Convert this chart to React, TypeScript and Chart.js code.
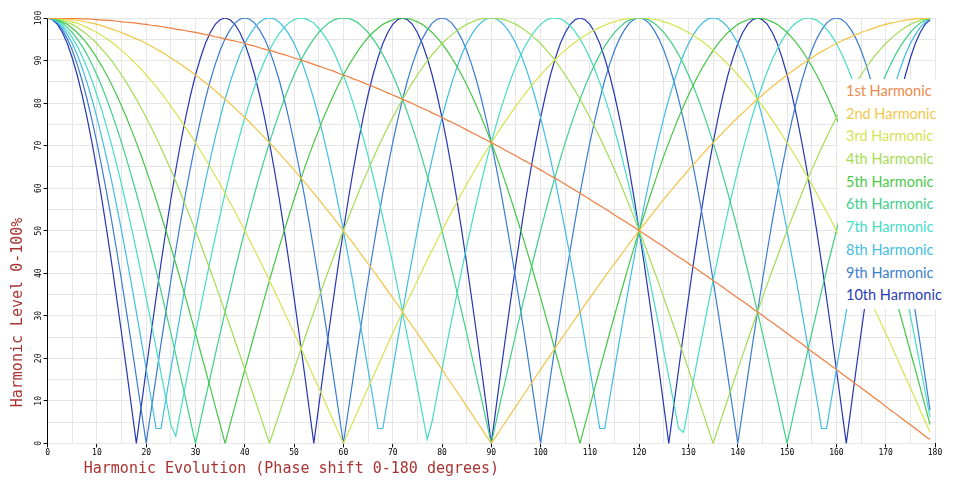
import { useEffect, useRef } from "react";
import Chart from "chart.js/auto";

// phase shift in degrees, one sample per degree
const phaseDegrees: number[] = Array.from({ length: 180 }, (_, i) => i);

const harmonicNames = [
  "1st Harmonic",
  "2nd Harmonic",
  "3rd Harmonic",
  "4th Harmonic",
  "5th Harmonic",
  "6th Harmonic",
  "7th Harmonic",
  "8th Harmonic",
  "9th Harmonic",
  "10th Harmonic",
];

const harmonicColors = [
  "#ee7d3e",
  "#f3c343",
  "#d6e44c",
  "#a3dc52",
  "#45c646",
  "#3fcf86",
  "#45dcc6",
  "#41bce2",
  "#3a7cd2",
  "#2737b3",
];

const legendColors = [
  "#ee8a4e",
  "#f2c84b",
  "#d5e352",
  "#a6dc55",
  "#4cc84a",
  "#41cf8a",
  "#46dcc8",
  "#45bde0",
  "#3b7fd0",
  "#2b3bb5",
];

const h1 = [
  100, 100, 100, 100, 99.9, 99.9, 99.9, 99.8, 99.8, 99.7,
  99.6, 99.5, 99.5, 99.4, 99.3, 99.1, 99.0, 98.9, 98.8, 98.6,
  98.5, 98.3, 98.2, 98.0, 97.8, 97.6, 97.4, 97.2, 97.0, 96.8,
  96.6, 96.4, 96.1, 95.9, 95.6, 95.4, 95.1, 94.8, 94.6, 94.3,
  94.0, 93.7, 93.4, 93.0, 92.7, 92.4, 92.1, 91.7, 91.4, 91.0,
  90.6, 90.3, 89.9, 89.5, 89.1, 88.7, 88.3, 87.9, 87.5, 87.0,
  86.6, 86.2, 85.7, 85.3, 84.8, 84.3, 83.9, 83.4, 82.9, 82.4,
  81.9, 81.4, 80.9, 80.4, 79.9, 79.3, 78.8, 78.3, 77.7, 77.2,
  76.6, 76.0, 75.5, 74.9, 74.3, 73.7, 73.1, 72.5, 71.9, 71.3,
  70.7, 70.1, 69.5, 68.8, 68.2, 67.6, 66.9, 66.3, 65.6, 64.9,
  64.3, 63.6, 62.9, 62.3, 61.6, 60.9, 60.2, 59.5, 58.8, 58.1,
  57.4, 56.6, 55.9, 55.2, 54.5, 53.7, 53.0, 52.3, 51.5, 50.8,
  50.0, 49.2, 48.5, 47.7, 47.0, 46.2, 45.4, 44.6, 43.8, 43.1,
  42.3, 41.5, 40.7, 39.9, 39.1, 38.3, 37.5, 36.7, 35.8, 35.0,
  34.2, 33.4, 32.6, 31.7, 30.9, 30.1, 29.2, 28.4, 27.6, 26.7,
  25.9, 25.0, 24.2, 23.4, 22.5, 21.6, 20.8, 19.9, 19.1, 18.2,
  17.4, 16.5, 15.6, 14.8, 13.9, 13.1, 12.2, 11.3, 10.5, 9.6,
  8.7, 7.8, 7.0, 6.1, 5.2, 4.4, 3.5, 2.6, 1.7, 0.9,
];

const h2 = [
  100, 100, 99.9, 99.9, 99.8, 99.6, 99.5, 99.3, 99.0, 98.8,
  98.5, 98.2, 97.8, 97.4, 97.0, 96.6, 96.1, 95.6, 95.1, 94.6,
  94.0, 93.4, 92.7, 92.1, 91.4, 90.6, 89.9, 89.1, 88.3, 87.5,
  86.6, 85.7, 84.8, 83.9, 82.9, 81.9, 80.9, 79.9, 78.8, 77.7,
  76.6, 75.5, 74.3, 73.1, 71.9, 70.7, 69.5, 68.2, 66.9, 65.6,
  64.3, 62.9, 61.6, 60.2, 58.8, 57.4, 55.9, 54.5, 53.0, 51.5,
  50.0, 48.5, 47.0, 45.4, 43.8, 42.3, 40.7, 39.1, 37.5, 35.8,
  34.2, 32.6, 30.9, 29.2, 27.6, 25.9, 24.2, 22.5, 20.8, 19.1,
  17.4, 15.6, 13.9, 12.2, 10.5, 8.7, 7.0, 5.2, 3.5, 1.7,
  0,
  1.7, 3.5, 5.2, 7.0, 8.7, 10.5, 12.2, 13.9, 15.6, 17.4,
  19.1, 20.8, 22.5, 24.2, 25.9, 27.6, 29.2, 30.9, 32.6, 34.2,
  35.8, 37.5, 39.1, 40.7, 42.3, 43.8, 45.4, 47.0, 48.5, 50.0,
  51.5, 53.0, 54.5, 55.9, 57.4, 58.8, 60.2, 61.6, 62.9, 64.3,
  65.6, 66.9, 68.2, 69.5, 70.7, 71.9, 73.1, 74.3, 75.5, 76.6,
  77.7, 78.8, 79.9, 80.9, 81.9, 82.9, 83.9, 84.8, 85.7, 86.6,
  87.5, 88.3, 89.1, 89.9, 90.6, 91.4, 92.1, 92.7, 93.4, 94.0,
  94.6, 95.1, 95.6, 96.1, 96.6, 97.0, 97.4, 97.8, 98.2, 98.5,
  98.8, 99.0, 99.3, 99.5, 99.6, 99.8, 99.9, 99.9, 100,
];

const h3 = [
  100, 100, 99.9, 99.7, 99.5, 99.1, 98.8, 98.3, 97.8, 97.2,
  96.6, 95.9, 95.1, 94.3, 93.4, 92.4, 91.4, 90.3, 89.1, 87.9,
  86.6, 85.3, 83.9, 82.4, 80.9, 79.3, 77.7, 76.0, 74.3, 72.5,
  70.7, 68.8, 66.9, 64.9, 62.9, 60.9, 58.8, 56.6, 54.5, 52.3,
  50.0, 47.7, 45.4, 43.1, 40.7, 38.3, 35.8, 33.4, 30.9, 28.4,
  25.9, 23.4, 20.8, 18.2, 15.6, 13.1, 10.5, 7.8, 5.2, 2.6,
  0,
  2.6, 5.2, 7.8, 10.5, 13.1, 15.6, 18.2, 20.8, 23.4, 25.9,
  28.4, 30.9, 33.4, 35.8, 38.3, 40.7, 43.1, 45.4, 47.7, 50.0,
  52.3, 54.5, 56.6, 58.8, 60.9, 62.9, 64.9, 66.9, 68.8, 70.7,
  72.5, 74.3, 76.0, 77.7, 79.3, 80.9, 82.4, 83.9, 85.3, 86.6,
  87.9, 89.1, 90.3, 91.4, 92.4, 93.4, 94.3, 95.1, 95.9, 96.6,
  97.2, 97.8, 98.3, 98.8, 99.1, 99.5, 99.7, 99.9, 100, 100,
  100, 99.9, 99.7, 99.5, 99.1, 98.8, 98.3, 97.8, 97.2,
  96.6, 95.9, 95.1, 94.3, 93.4, 92.4, 91.4, 90.3, 89.1, 87.9,
  86.6, 85.3, 83.9, 82.4, 80.9, 79.3, 77.7, 76.0, 74.3, 72.5,
  70.7, 68.8, 66.9, 64.9, 62.9, 60.9, 58.8, 56.6, 54.5, 52.3,
  50.0, 47.7, 45.4, 43.1, 40.7, 38.3, 35.8, 33.4, 30.9, 28.4,
  25.9, 23.4, 20.8, 18.2, 15.6, 13.1, 10.5, 7.8, 5.2, 2.6,
];

const h4 = [
  100, 99.9, 99.8, 99.5, 99.0, 98.5, 97.8, 97.0, 96.1, 95.1,
  94.0, 92.7, 91.4, 89.9, 88.3, 86.6, 84.8, 82.9, 80.9, 78.8,
  76.6, 74.3, 71.9, 69.5, 66.9, 64.3, 61.6, 58.8, 55.9, 53.0,
  50.0, 47.0, 43.8, 40.7, 37.5, 34.2, 30.9, 27.6, 24.2, 20.8,
  17.4, 13.9, 10.5, 7.0, 3.5, 0,
  3.5, 7.0, 10.5, 13.9, 17.4, 20.8, 24.2, 27.6, 30.9, 34.2,
  37.5, 40.7, 43.8, 47.0, 50.0, 53.0, 55.9, 58.8, 61.6, 64.3,
  66.9, 69.5, 71.9, 74.3, 76.6, 78.8, 80.9, 82.9, 84.8, 86.6,
  88.3, 89.9, 91.4, 92.7, 94.0, 95.1, 96.1, 97.0, 97.8, 98.5,
  99.0, 99.5, 99.8, 99.9, 100,
  99.9, 99.8, 99.5, 99.0, 98.5, 97.8, 97.0, 96.1, 95.1,
  94.0, 92.7, 91.4, 89.9, 88.3, 86.6, 84.8, 82.9, 80.9, 78.8,
  76.6, 74.3, 71.9, 69.5, 66.9, 64.3, 61.6, 58.8, 55.9, 53.0,
  50.0, 47.0, 43.8, 40.7, 37.5, 34.2, 30.9, 27.6, 24.2, 20.8,
  17.4, 13.9, 10.5, 7.0, 3.5, 0,
  3.5, 7.0, 10.5, 13.9, 17.4, 20.8, 24.2, 27.6, 30.9, 34.2,
  37.5, 40.7, 43.8, 47.0, 50.0, 53.0, 55.9, 58.8, 61.6, 64.3,
  66.9, 69.5, 71.9, 74.3, 76.6, 78.8, 80.9, 82.9, 84.8, 86.6,
  88.3, 89.9, 91.4, 92.7, 94.0, 95.1, 96.1, 97.0, 97.8, 98.5,
  99.0, 99.5, 99.8, 99.9,
];

const h5 = [
  100, 99.9, 99.6, 99.1, 98.5, 97.6, 96.6, 95.4, 94.0, 92.4,
  90.6, 88.7, 86.6, 84.3, 81.9, 79.3, 76.6, 73.7, 70.7, 67.6,
  64.3, 60.9, 57.4, 53.7, 50.0, 46.2, 42.3, 38.3, 34.2, 30.1,
  25.9, 21.6, 17.4, 13.1, 8.7, 4.4, 0,
  4.4, 8.7, 13.1, 17.4, 21.6, 25.9, 30.1, 34.2, 38.3, 42.3,
  46.2, 50.0, 53.7, 57.4, 60.9, 64.3, 67.6, 70.7, 73.7, 76.6,
  79.3, 81.9, 84.3, 86.6, 88.7, 90.6, 92.4, 94.0, 95.4, 96.6,
  97.6, 98.5, 99.1, 99.6, 99.9, 100,
  99.9, 99.6, 99.1, 98.5, 97.6, 96.6, 95.4, 94.0, 92.4,
  90.6, 88.7, 86.6, 84.3, 81.9, 79.3, 76.6, 73.7, 70.7, 67.6,
  64.3, 60.9, 57.4, 53.7, 50.0, 46.2, 42.3, 38.3, 34.2, 30.1,
  25.9, 21.6, 17.4, 13.1, 8.7, 4.4, 0,
  4.4, 8.7, 13.1, 17.4, 21.6, 25.9, 30.1, 34.2, 38.3, 42.3,
  46.2, 50.0, 53.7, 57.4, 60.9, 64.3, 67.6, 70.7, 73.7, 76.6,
  79.3, 81.9, 84.3, 86.6, 88.7, 90.6, 92.4, 94.0, 95.4, 96.6,
  97.6, 98.5, 99.1, 99.6, 99.9, 100,
  99.9, 99.6, 99.1, 98.5, 97.6, 96.6, 95.4, 94.0, 92.4,
  90.6, 88.7, 86.6, 84.3, 81.9, 79.3, 76.6, 73.7, 70.7, 67.6,
  64.3, 60.9, 57.4, 53.7, 50.0, 46.2, 42.3, 38.3, 34.2, 30.1,
  25.9, 21.6, 17.4, 13.1, 8.7, 4.4,
];

const h6 = [
  100, 99.9, 99.5, 98.8, 97.8, 96.6, 95.1, 93.4, 91.4, 89.1,
  86.6, 83.9, 80.9, 77.7, 74.3, 70.7, 66.9, 62.9, 58.8, 54.5,
  50.0, 45.4, 40.7, 35.8, 30.9, 25.9, 20.8, 15.6, 10.5, 5.2, 0,
  5.2, 10.5, 15.6, 20.8, 25.9, 30.9, 35.8, 40.7, 45.4, 50.0,
  54.5, 58.8, 62.9, 66.9, 70.7, 74.3, 77.7, 80.9, 83.9, 86.6,
  89.1, 91.4, 93.4, 95.1, 96.6, 97.8, 98.8, 99.5, 99.9, 100,
  99.9, 99.5, 98.8, 97.8, 96.6, 95.1, 93.4, 91.4, 89.1, 86.6,
  83.9, 80.9, 77.7, 74.3, 70.7, 66.9, 62.9, 58.8, 54.5, 50.0,
  45.4, 40.7, 35.8, 30.9, 25.9, 20.8, 15.6, 10.5, 5.2, 0,
  5.2, 10.5, 15.6, 20.8, 25.9, 30.9, 35.8, 40.7, 45.4, 50.0,
  54.5, 58.8, 62.9, 66.9, 70.7, 74.3, 77.7, 80.9, 83.9, 86.6,
  89.1, 91.4, 93.4, 95.1, 96.6, 97.8, 98.8, 99.5, 99.9, 100,
  99.9, 99.5, 98.8, 97.8, 96.6, 95.1, 93.4, 91.4, 89.1, 86.6,
  83.9, 80.9, 77.7, 74.3, 70.7, 66.9, 62.9, 58.8, 54.5, 50.0,
  45.4, 40.7, 35.8, 30.9, 25.9, 20.8, 15.6, 10.5, 5.2, 0,
  5.2, 10.5, 15.6, 20.8, 25.9, 30.9, 35.8, 40.7, 45.4, 50.0,
  54.5, 58.8, 62.9, 66.9, 70.7, 74.3, 77.7, 80.9, 83.9, 86.6,
  89.1, 91.4, 93.4, 95.1, 96.6, 97.8, 98.8, 99.5, 99.9,
];

const h7 = [
  100, 99.8, 99.3, 98.3, 97.0, 95.4, 93.4, 91.0, 88.3, 85.3,
  81.9, 78.3, 74.3, 70.1, 65.6, 60.9, 55.9, 50.8, 45.4, 39.9,
  34.2, 28.4, 22.5, 16.5, 10.5, 4.4, 1.7, 7.8, 13.9, 19.9,
  25.9, 31.7, 37.5, 43.1, 48.5, 53.7, 58.8, 63.6, 68.2, 72.5,
  76.6, 80.4, 83.9, 87.0, 89.9, 92.4, 94.6, 96.4, 97.8, 98.9,
  99.6, 100, 99.9, 99.5, 98.8, 97.6, 96.1, 94.3, 92.1, 89.5,
  86.6, 83.4, 79.9, 76.0, 71.9, 67.6, 62.9, 58.1, 53.0, 47.7,
  42.3, 36.7, 30.9, 25.0, 19.1, 13.1, 7.0, 0.9, 5.2, 11.3,
  17.4, 23.4, 29.2, 35.0, 40.7, 46.2, 51.5, 56.6, 61.6, 66.3,
  70.7, 74.9, 78.8, 82.4, 85.7, 88.7, 91.4, 93.7, 95.6, 97.2,
  98.5, 99.4, 99.9, 100, 99.8, 99.1, 98.2, 96.8, 95.1, 93.0,
  90.6, 87.9, 84.8, 81.4, 77.7, 73.7, 69.5, 64.9, 60.2, 55.2,
  50.0, 44.6, 39.1, 33.4, 27.6, 21.6, 15.6, 9.6, 3.5, 2.6,
  8.7, 14.8, 20.8, 26.7, 32.6, 38.3, 43.8, 49.2, 54.5, 59.5,
  64.3, 68.8, 73.1, 77.2, 80.9, 84.3, 87.5, 90.3, 92.7, 94.8,
  96.6, 98.0, 99.0, 99.7, 100, 99.9, 99.5, 98.6, 97.4, 95.9,
  94.0, 91.7, 89.1, 86.2, 82.9, 79.3, 75.5, 71.3, 66.9, 62.3,
  57.4, 52.3, 47.0, 41.5, 35.8, 30.1, 24.2, 18.2, 12.2, 6.1,
];

const h8 = [
  100, 99.8, 99.0, 97.8, 96.1, 94.0, 91.4, 88.3, 84.8, 80.9,
  76.6, 71.9, 66.9, 61.6, 55.9, 50.0, 43.8, 37.5, 30.9, 24.2,
  17.4, 10.5, 3.5, 3.5, 10.5, 17.4, 24.2, 30.9, 37.5, 43.8,
  50.0, 55.9, 61.6, 66.9, 71.9, 76.6, 80.9, 84.8, 88.3, 91.4,
  94.0, 96.1, 97.8, 99.0, 99.8,
  100, 99.8, 99.0, 97.8, 96.1, 94.0, 91.4, 88.3, 84.8, 80.9,
  76.6, 71.9, 66.9, 61.6, 55.9, 50.0, 43.8, 37.5, 30.9, 24.2,
  17.4, 10.5, 3.5, 3.5, 10.5, 17.4, 24.2, 30.9, 37.5, 43.8,
  50.0, 55.9, 61.6, 66.9, 71.9, 76.6, 80.9, 84.8, 88.3, 91.4,
  94.0, 96.1, 97.8, 99.0, 99.8,
  100, 99.8, 99.0, 97.8, 96.1, 94.0, 91.4, 88.3, 84.8, 80.9,
  76.6, 71.9, 66.9, 61.6, 55.9, 50.0, 43.8, 37.5, 30.9, 24.2,
  17.4, 10.5, 3.5, 3.5, 10.5, 17.4, 24.2, 30.9, 37.5, 43.8,
  50.0, 55.9, 61.6, 66.9, 71.9, 76.6, 80.9, 84.8, 88.3, 91.4,
  94.0, 96.1, 97.8, 99.0, 99.8,
  100, 99.8, 99.0, 97.8, 96.1, 94.0, 91.4, 88.3, 84.8, 80.9,
  76.6, 71.9, 66.9, 61.6, 55.9, 50.0, 43.8, 37.5, 30.9, 24.2,
  17.4, 10.5, 3.5, 3.5, 10.5, 17.4, 24.2, 30.9, 37.5, 43.8,
  50.0, 55.9, 61.6, 66.9, 71.9, 76.6, 80.9, 84.8, 88.3, 91.4,
  94.0, 96.1, 97.8, 99.0, 99.8,
];

const h9 = [
  100, 99.7, 98.8, 97.2, 95.1, 92.4, 89.1, 85.3, 80.9, 76.0,
  70.7, 64.9, 58.8, 52.3, 45.4, 38.3, 30.9, 23.4, 15.6, 7.8,
  0, 7.8, 15.6, 23.4, 30.9, 38.3, 45.4, 52.3, 58.8, 64.9,
  70.7, 76.0, 80.9, 85.3, 89.1, 92.4, 95.1, 97.2, 98.8, 99.7,
  100, 99.7, 98.8, 97.2, 95.1, 92.4, 89.1, 85.3, 80.9, 76.0,
  70.7, 64.9, 58.8, 52.3, 45.4, 38.3, 30.9, 23.4, 15.6, 7.8,
  0, 7.8, 15.6, 23.4, 30.9, 38.3, 45.4, 52.3, 58.8, 64.9,
  70.7, 76.0, 80.9, 85.3, 89.1, 92.4, 95.1, 97.2, 98.8, 99.7,
  100, 99.7, 98.8, 97.2, 95.1, 92.4, 89.1, 85.3, 80.9, 76.0,
  70.7, 64.9, 58.8, 52.3, 45.4, 38.3, 30.9, 23.4, 15.6, 7.8,
  0, 7.8, 15.6, 23.4, 30.9, 38.3, 45.4, 52.3, 58.8, 64.9,
  70.7, 76.0, 80.9, 85.3, 89.1, 92.4, 95.1, 97.2, 98.8, 99.7,
  100, 99.7, 98.8, 97.2, 95.1, 92.4, 89.1, 85.3, 80.9, 76.0,
  70.7, 64.9, 58.8, 52.3, 45.4, 38.3, 30.9, 23.4, 15.6, 7.8,
  0, 7.8, 15.6, 23.4, 30.9, 38.3, 45.4, 52.3, 58.8, 64.9,
  70.7, 76.0, 80.9, 85.3, 89.1, 92.4, 95.1, 97.2, 98.8, 99.7,
  100, 99.7, 98.8, 97.2, 95.1, 92.4, 89.1, 85.3, 80.9, 76.0,
  70.7, 64.9, 58.8, 52.3, 45.4, 38.3, 30.9, 23.4, 15.6, 7.8,
];

const h10 = [
  100, 99.6, 98.5, 96.6, 94.0, 90.6, 86.6, 81.9, 76.6, 70.7,
  64.3, 57.4, 50.0, 42.3, 34.2, 25.9, 17.4, 8.7, 0,
  8.7, 17.4, 25.9, 34.2, 42.3, 50.0, 57.4, 64.3, 70.7, 76.6, 81.9, 86.6, 90.6, 94.0, 96.6, 98.5, 99.6,
  100, 99.6, 98.5, 96.6, 94.0, 90.6, 86.6, 81.9, 76.6, 70.7,
  64.3, 57.4, 50.0, 42.3, 34.2, 25.9, 17.4, 8.7, 0,
  8.7, 17.4, 25.9, 34.2, 42.3, 50.0, 57.4, 64.3, 70.7, 76.6, 81.9, 86.6, 90.6, 94.0, 96.6, 98.5, 99.6,
  100, 99.6, 98.5, 96.6, 94.0, 90.6, 86.6, 81.9, 76.6, 70.7,
  64.3, 57.4, 50.0, 42.3, 34.2, 25.9, 17.4, 8.7, 0,
  8.7, 17.4, 25.9, 34.2, 42.3, 50.0, 57.4, 64.3, 70.7, 76.6, 81.9, 86.6, 90.6, 94.0, 96.6, 98.5, 99.6,
  100, 99.6, 98.5, 96.6, 94.0, 90.6, 86.6, 81.9, 76.6, 70.7,
  64.3, 57.4, 50.0, 42.3, 34.2, 25.9, 17.4, 8.7, 0,
  8.7, 17.4, 25.9, 34.2, 42.3, 50.0, 57.4, 64.3, 70.7, 76.6, 81.9, 86.6, 90.6, 94.0, 96.6, 98.5, 99.6,
  100, 99.6, 98.5, 96.6, 94.0, 90.6, 86.6, 81.9, 76.6, 70.7,
  64.3, 57.4, 50.0, 42.3, 34.2, 25.9, 17.4, 8.7, 0,
  8.7, 17.4, 25.9, 34.2, 42.3, 50.0, 57.4, 64.3, 70.7, 76.6, 81.9, 86.6, 90.6, 94.0, 96.6, 98.5, 99.6,
];

const harmonicLevels = [h1, h2, h3, h4, h5, h6, h7, h8, h9, h10];

const monoFont = "'DejaVu Sans Mono', monospace";
const titleColor = "#a83434";

export default function App() {
  const chartRef = useRef<HTMLCanvasElement>(null);
  const chartInstanceRef = useRef<Chart | null>(null);

  useEffect(() => {
    if (!chartRef.current) return;

    if (chartInstanceRef.current) {
      chartInstanceRef.current.destroy();
    }

    const ctx = chartRef.current.getContext("2d");
    if (!ctx) return;

    chartInstanceRef.current = new Chart(ctx, {
      type: "line",
      data: {
        labels: phaseDegrees,
        datasets: harmonicLevels.map((levels, i) => ({
          label: harmonicNames[i],
          data: levels,
          borderColor: harmonicColors[i],
          backgroundColor: harmonicColors[i],
          borderWidth: 1.2,
          pointRadius: 0,
          tension: 0,
          fill: false,
        })),
      },
      options: {
        responsive: true,
        maintainAspectRatio: false,
        animation: false,
        layout: {
          padding: { left: 7, top: 18, right: 25, bottom: 20 },
        },
        plugins: {
          legend: { display: false },
          tooltip: { enabled: false },
        },
        scales: {
          x: {
            type: "linear",
            min: 0,
            max: 180,
            border: { display: false },
            grid: {
              color: "#e6e6e6",
              tickLength: 4,
              tickColor: (c: any) =>
                c.tick && c.tick.value % 10 === 0 ? "#000" : "rgba(0,0,0,0)",
            },
            ticks: {
              stepSize: 5,
              autoSkip: false,
              maxRotation: 0,
              padding: 1,
              color: "#000",
              font: { family: monoFont, size: 8 },
              callback: (v: any) => (Number(v) % 10 === 0 ? String(v) : ""),
            },
            title: {
              display: true,
              align: "start",
              text: "    Harmonic Evolution (Phase shift 0-180 degrees)",
              color: titleColor,
              font: { family: monoFont, size: 15 },
              padding: { top: 1, bottom: 2 },
            },
          },
          y: {
            min: 0,
            max: 100,
            border: { display: true, color: "#000" },
            grid: {
              color: "#e6e6e6",
              tickLength: 4,
              tickColor: (c: any) =>
                c.tick && c.tick.value % 10 === 0 ? "#000" : "rgba(0,0,0,0)",
            },
            ticks: {
              stepSize: 5,
              autoSkip: false,
              minRotation: 90,
              maxRotation: 90,
              crossAlign: "center",
              padding: -3,
              color: "#000",
              font: { family: monoFont, size: 8 },
              callback: (v: any) => (Number(v) % 10 === 0 ? String(v) : ""),
            },
            title: {
              display: true,
              align: "start",
              text: "    Harmonic Level 0-100%",
              color: titleColor,
              font: { family: monoFont, size: 15 },
              padding: { top: 2, bottom: 13 },
            },
          },
        },
      },
    });

    return () => {
      if (chartInstanceRef.current) {
        chartInstanceRef.current.destroy();
        chartInstanceRef.current = null;
      }
    };
  }, []);

  return (
    <div
      style={{
        position: "fixed",
        left: 0,
        top: 0,
        width: 960,
        height: 500,
        background: "#fff",
        overflow: "hidden",
      }}
    >
      <canvas ref={chartRef} />
      <div
        style={{
          position: "absolute",
          left: 838,
          top: 79,
          width: 112,
          height: 230,
          background: "#fff",
          paddingTop: 1,
          boxSizing: "border-box",
        }}
      >
        {harmonicNames.map((name, i) => (
          <div
            key={name}
            style={{
              height: 22.7,
              lineHeight: "22.7px",
              paddingLeft: 8,
              fontFamily: "Lato, 'Open Sans', sans-serif",
              fontSize: 14.5,
              color: legendColors[i],
              whiteSpace: "nowrap",
            }}
          >
            {name}
          </div>
        ))}
      </div>
    </div>
  );
}
